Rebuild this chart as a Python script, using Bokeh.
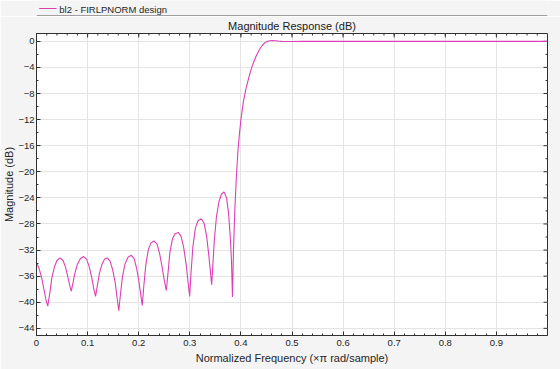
from bokeh.plotting import figure
from bokeh.layouts import column
from bokeh.models import Range1d, LinearAxis, FixedTicker, Grid, CustomJSTickFormatter
from bokeh.core.properties import value
from bokeh.embed import file_html
from bokeh.resources import INLINE
import math

# Normalized frequency (x pi rad/sample) and magnitude (dB)
freq = [0.0, 0.005, 0.010, 0.015, 0.019, 0.022,
        0.026, 0.030, 0.035, 0.040, 0.046, 0.052, 0.057, 0.061, 0.065, 0.068,
        0.071, 0.075, 0.080, 0.086, 0.092, 0.098, 0.103, 0.108, 0.112, 0.1156,
        0.119, 0.123, 0.128, 0.133, 0.1385, 0.144, 0.149, 0.154, 0.158, 0.161,
        0.164, 0.168, 0.173, 0.179, 0.1855, 0.191, 0.196, 0.200, 0.204, 0.207,
        0.210, 0.214, 0.219, 0.224, 0.2298, 0.236, 0.241, 0.246, 0.250, 0.254,
        0.257, 0.261, 0.266, 0.271, 0.2775, 0.283, 0.288, 0.293, 0.297, 0.2997,
        0.302, 0.306, 0.311, 0.316, 0.3226, 0.328, 0.333, 0.337, 0.340, 0.3428,
        0.345, 0.348, 0.352, 0.357, 0.362, 0.367, 0.372, 0.376, 0.379, 0.3815, 0.3835,
        0.3855, 0.388, 0.391, 0.394, 0.397, 0.400, 0.405, 0.410, 0.416, 0.422, 0.429,
        0.436, 0.442, 0.447, 0.452, 0.457, 0.4616, 0.467, 0.473, 0.480, 0.490, 0.500,
        0.520, 0.600, 0.700, 0.800, 0.900, 0.999]
mag_db = [-34.0, -34.8, -36.2, -38.2, -39.8, -40.6,
          -38.6, -36.3, -34.6, -33.6, -33.2, -33.6, -34.7, -36.0, -37.4, -38.3,
          -37.2, -35.6, -34.2, -33.3, -33.0, -33.4, -34.5, -36.2, -37.9, -39.1,
          -37.5, -35.6, -34.2, -33.4, -33.2, -33.7, -35.0, -37.0, -39.5, -41.3,
          -39.0, -36.2, -34.2, -33.1, -32.8, -33.3, -34.8, -36.6, -38.8, -40.5,
          -37.5, -34.2, -31.9, -30.9, -30.6, -31.1, -32.6, -34.7, -36.6, -38.2,
          -35.8, -32.4, -30.3, -29.5, -29.3, -29.9, -31.6, -34.3, -37.2, -39.1,
          -36.0, -31.5, -28.6, -27.5, -27.2, -27.9, -29.9, -32.7, -35.0, -37.3,
          -34.5, -30.5, -27.0, -24.6, -23.4, -23.1, -24.0, -26.5, -29.8, -33.5, -39.2,
          -32.0, -26.0, -21.0, -17.0, -14.3, -12.0, -9.2, -7.2, -5.4, -3.8, -2.4,
          -1.3, -0.6, -0.2, 0.0, 0.1, 0.12, 0.1, 0.04, 0.0, -0.02, -0.02,
          0.0, 0.0, 0.0, 0.0, 0.0, 0.0]

x_ticks = [0, 0.1, 0.2, 0.3, 0.4, 0.5, 0.6, 0.7, 0.8, 0.9]
x_minor = [i / 50 for i in range(0, 50)]
y_ticks = [0, -4, -8, -12, -16, -20, -24, -28, -32, -36, -40, -44]
y_minor = [-2 - 4 * i for i in range(12)]

title_text = "Magnitude Response (dB)"
legend_text = "bl2 - FIRLPNORM design"
x_label = "Normalized Frequency (\u00d7\u03c0 rad/sample)"
y_label = "Magnitude (dB)"

X0, X1 = 0.0, 1.0
Y0, Y1 = -45.1, 1.2

LINE = "#dd3fb5"
BG = "#f4f4f4"
AX = "#303030"
TXT = "#262626"
FONT = "Liberation Sans"

# ---- legend strip -------------------------------------------------------
top = figure(width=560, height=16, output_backend="svg", toolbar_location=None,
             x_range=Range1d(0, 560), y_range=Range1d(16, 0),
             x_axis_type=None, y_axis_type=None, min_border=0)
top.background_fill_color = BG
top.border_fill_color = BG
top.outline_line_color = None
top.xgrid.visible = False
top.ygrid.visible = False
top.line([3, 22], [8, 8], line_color=LINE, line_width=1)
top.text([25], [8.5], text=[legend_text], text_font=value(FONT), text_font_size="9.5px",
         text_color=TXT, text_align="left", text_baseline="middle")
top.line([0, 560], [15.5, 15.5], line_color="#4a4a4a", line_width=1)

# ---- main axes ----------------------------------------------------------
p = figure(width=560, height=353, output_backend="svg", toolbar_location=None,
           x_range=Range1d(X0, X1), y_range=Range1d(Y0, Y1),
           x_axis_type=None, y_axis_type=None,
           min_border_left=36, min_border_right=13, min_border_top=17, min_border_bottom=34)
p.background_fill_color = "white"
p.border_fill_color = BG
p.outline_line_color = AX
p.outline_line_width = 1
p.xgrid.visible = False
p.ygrid.visible = False

p.title.text = title_text
p.title.align = "center"
p.title.text_font = FONT
p.title.text_font_size = "11px"
p.title.text_font_style = "normal"
p.title.text_color = "#1a1a1a"
p.title.standoff = 3
p.title.offset = 0

fmt = CustomJSTickFormatter(code="return tick == 0 ? '0' : (Math.round(tick*10)/10).toString();")


def style(ax):
    ax.axis_line_color = AX
    ax.major_tick_line_color = AX
    ax.minor_tick_line_color = AX
    ax.major_tick_in = 4
    ax.major_tick_out = 0
    ax.minor_tick_in = 2
    ax.minor_tick_out = 0
    ax.major_label_text_font = FONT
    ax.major_label_text_font_size = "9.5px"
    ax.major_label_text_color = TXT
    ax.axis_label_text_font = FONT
    ax.axis_label_text_font_size = "11px"
    ax.axis_label_text_font_style = "normal"
    ax.axis_label_text_color = TXT


xb = LinearAxis(ticker=FixedTicker(ticks=x_ticks, minor_ticks=x_minor), formatter=fmt,
                axis_label=x_label)
style(xb)
xb.major_label_standoff = 4
xb.axis_label_standoff = 3
p.add_layout(xb, "below")

yl = LinearAxis(ticker=FixedTicker(ticks=y_ticks, minor_ticks=y_minor), axis_label=y_label)
style(yl)
yl.major_label_standoff = 2
yl.axis_label_standoff = 0
p.add_layout(yl, "left")

p.add_layout(Grid(dimension=0, ticker=xb.ticker, grid_line_color="#e4e4e4"))
p.add_layout(Grid(dimension=1, ticker=yl.ticker, grid_line_color="#e4e4e4"))

# Box ticks on the top and right edges (half of each dash is clipped by the frame)
p.scatter(x_ticks, [Y1] * len(x_ticks), marker="dash", size=8, angle=math.pi / 2,
          line_color=AX, line_width=1)
p.scatter(x_minor, [Y1] * len(x_minor), marker="dash", size=4, angle=math.pi / 2,
          line_color=AX, line_width=1)
p.scatter([X1] * len(y_ticks), y_ticks, marker="dash", size=8,
          line_color=AX, line_width=1)
p.scatter([X1] * len(y_minor), y_minor, marker="dash", size=4,
          line_color=AX, line_width=1)

p.line(freq, mag_db, line_color=LINE, line_width=1.1)

layout = column(top, p, spacing=0)
open("out.html", "w").write(file_html(layout, INLINE))
